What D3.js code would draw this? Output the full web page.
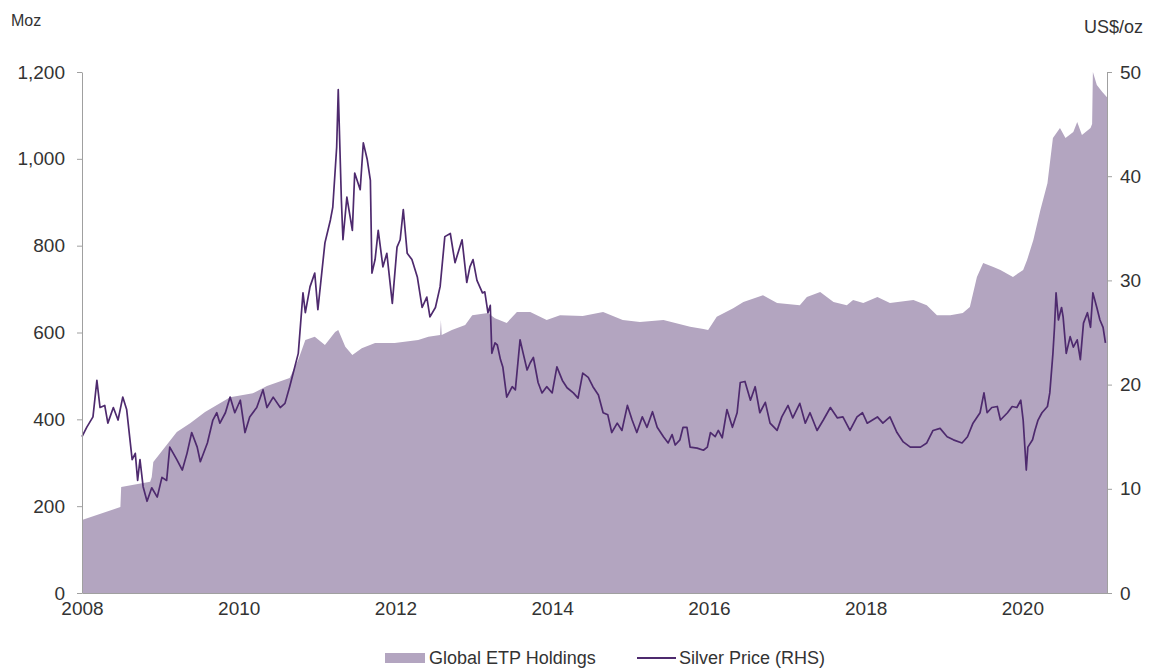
<!DOCTYPE html>
<html>
<head>
<meta charset="utf-8">
<script src="https://d3js.org/d3.v7.min.js"></script>
<style>
  body { margin: 0; background: #fff; }
  svg text { font-family: "Liberation Sans", Arial, sans-serif; fill: #333; }
  .axis path, .axis line { stroke: #a0a0a0; }
</style>
</head>
<body>
<div class="chart"></div>
<script>
// ETP holdings (Moz), decimal year
const etpDates = [2008.00, 2008.49, 2008.50, 2008.87, 2008.89, 2008.91, 2009.21, 2009.38, 2009.57, 2009.89,
  2010.18, 2010.36, 2010.65, 2010.76, 2010.85, 2010.97, 2011.10, 2011.23, 2011.27, 2011.36,
  2011.45, 2011.57, 2011.74, 2011.99, 2012.29, 2012.42, 2012.57, 2012.58, 2012.59, 2012.72,
  2012.89, 2012.98, 2013.18, 2013.27, 2013.42, 2013.55, 2013.72, 2013.93, 2014.10, 2014.39,
  2014.65, 2014.90, 2015.12, 2015.42, 2015.76, 2015.93, 2015.99, 2016.10, 2016.31, 2016.44,
  2016.69, 2016.87, 2017.16, 2017.25, 2017.42, 2017.59, 2017.76, 2017.84, 2017.97, 2018.15,
  2018.31, 2018.61, 2018.78, 2018.91, 2019.08, 2019.24, 2019.33, 2019.42, 2019.50, 2019.63,
  2019.72, 2019.88, 2020.01, 2020.06, 2020.14, 2020.23, 2020.32, 2020.39, 2020.48, 2020.55,
  2020.65, 2020.70, 2020.76, 2020.87, 2020.89, 2020.90, 2020.95, 2021.02, 2021.08];
const etpMoz = [168, 198, 244, 256, 267, 302, 371, 391, 417, 451,
  460, 477, 495, 537, 583, 590, 571, 601, 606, 567,
  548, 564, 576, 576, 583, 590, 594, 629, 594, 606,
  617, 640, 645, 633, 622, 647, 647, 629, 640, 638,
  647, 629, 624, 629, 613, 608, 606, 636, 656, 670,
  686, 668, 663, 682, 693, 670, 663, 675, 668, 682,
  668, 675, 663, 640, 640, 645, 659, 728, 760, 751,
  744, 728, 744, 767, 813, 882, 944, 1048, 1071, 1048,
  1062, 1085, 1055, 1071, 1080, 1200, 1170, 1154, 1142];

// Silver price (US$/oz), decimal year
const priceDates = [2008.00, 2008.06, 2008.14, 2008.19, 2008.23, 2008.29, 2008.33, 2008.40, 2008.46, 2008.52,
  2008.57, 2008.64, 2008.68, 2008.71, 2008.74, 2008.78, 2008.83, 2008.89, 2008.96, 2009.02,
  2009.08, 2009.12, 2009.21, 2009.28, 2009.34, 2009.40, 2009.47, 2009.51, 2009.60, 2009.67,
  2009.72, 2009.76, 2009.83, 2009.89, 2009.95, 2010.02, 2010.08, 2010.14, 2010.23, 2010.31,
  2010.36, 2010.44, 2010.53, 2010.59, 2010.65, 2010.76, 2010.82, 2010.85, 2010.91, 2010.97,
  2011.01, 2011.10, 2011.17, 2011.20, 2011.25, 2011.27, 2011.31, 2011.33, 2011.38, 2011.45,
  2011.48, 2011.55, 2011.59, 2011.64, 2011.68, 2011.70, 2011.74, 2011.78, 2011.84, 2011.89,
  2011.96, 2012.02, 2012.06, 2012.10, 2012.15, 2012.21, 2012.28, 2012.34, 2012.40, 2012.44,
  2012.51, 2012.57, 2012.63, 2012.70, 2012.76, 2012.85, 2012.91, 2012.95, 2012.99, 2013.04,
  2013.11, 2013.14, 2013.18, 2013.21, 2013.23, 2013.27, 2013.30, 2013.34, 2013.37, 2013.42,
  2013.49, 2013.53, 2013.59, 2013.63, 2013.68, 2013.72, 2013.76, 2013.82, 2013.87, 2013.93,
  2014.00, 2014.06, 2014.13, 2014.19, 2014.27, 2014.33, 2014.39, 2014.46, 2014.52, 2014.59,
  2014.65, 2014.71, 2014.76, 2014.83, 2014.89, 2014.96, 2015.02, 2015.08, 2015.15, 2015.21,
  2015.28, 2015.34, 2015.42, 2015.48, 2015.53, 2015.57, 2015.63, 2015.67, 2015.72, 2015.76,
  2015.85, 2015.93, 2015.98, 2016.02, 2016.08, 2016.12, 2016.17, 2016.23, 2016.30, 2016.36,
  2016.40, 2016.46, 2016.53, 2016.59, 2016.65, 2016.72, 2016.78, 2016.87, 2016.93, 2017.01,
  2017.07, 2017.16, 2017.23, 2017.29, 2017.38, 2017.46, 2017.55, 2017.64, 2017.71, 2017.80,
  2017.89, 2017.96, 2018.02, 2018.15, 2018.22, 2018.31, 2018.40, 2018.48, 2018.57, 2018.70,
  2018.78, 2018.86, 2018.95, 2019.04, 2019.12, 2019.23, 2019.30, 2019.37, 2019.46, 2019.51,
  2019.55, 2019.61, 2019.68, 2019.72, 2019.81, 2019.87, 2019.93, 2019.98, 2020.01, 2020.05,
  2020.07, 2020.13, 2020.16, 2020.20, 2020.25, 2020.32, 2020.35, 2020.39, 2020.41, 2020.43,
  2020.46, 2020.50, 2020.52, 2020.56, 2020.61, 2020.65, 2020.70, 2020.74, 2020.78, 2020.83,
  2020.87, 2020.90, 2020.95, 2020.99, 2021.03, 2021.06];
const priceUsd = [15.0, 15.9, 16.9, 20.4, 17.8, 18.0, 16.3, 17.8, 16.6, 18.8,
  17.6, 12.8, 13.4, 10.8, 12.8, 10.2, 8.8, 10.1, 9.2, 11.1,
  10.8, 14.0, 12.8, 11.8, 13.4, 15.4, 14.0, 12.6, 14.4, 16.6,
  17.3, 16.3, 17.3, 18.8, 17.3, 18.5, 15.4, 16.9, 17.8, 19.5,
  17.8, 18.8, 17.8, 18.2, 19.8, 23.0, 28.8, 26.9, 29.4, 30.7,
  27.2, 33.6, 35.8, 37.0, 42.8, 48.3, 37.7, 33.9, 38.0, 34.8,
  40.3, 38.7, 43.2, 41.6, 39.6, 30.7, 32.0, 34.8, 31.3, 32.6,
  27.8, 33.2, 33.9, 36.8, 32.6, 32.0, 30.3, 27.4, 28.4, 26.5,
  27.4, 29.4, 34.2, 34.5, 31.7, 33.9, 29.8, 31.3, 32.0, 30.0,
  28.8, 28.9, 26.9, 27.6, 23.0, 24.0, 23.8, 22.4, 21.7, 18.8,
  19.8, 19.5, 24.3, 23.0, 21.4, 22.1, 22.6, 20.2, 19.2, 19.8,
  19.2, 21.7, 20.4, 19.7, 19.2, 18.7, 21.1, 20.7, 19.8, 19.0,
  17.3, 17.1, 15.4, 16.3, 15.6, 18.0, 16.6, 15.4, 16.9, 15.9,
  17.4, 15.9, 15.0, 14.4, 15.2, 14.2, 14.7, 15.9, 15.9, 14.0,
  13.9, 13.7, 14.0, 15.4, 15.0, 15.6, 14.9, 17.6, 15.9, 17.3,
  20.2, 20.3, 18.5, 19.8, 17.3, 18.3, 16.3, 15.6, 16.9, 18.0,
  16.8, 18.2, 16.3, 17.3, 15.6, 16.6, 17.8, 16.8, 16.9, 15.6,
  16.9, 17.3, 16.3, 16.9, 16.3, 16.9, 15.4, 14.5, 14.0, 14.0,
  14.4, 15.6, 15.8, 15.0, 14.7, 14.4, 15.0, 16.3, 17.3, 19.2,
  17.3, 17.8, 17.9, 16.6, 17.3, 17.9, 17.8, 18.5, 16.6, 11.8,
  14.0, 14.7, 15.6, 16.6, 17.3, 17.9, 19.2, 23.0, 25.5, 28.8,
  26.2, 27.4, 26.5, 23.0, 24.6, 23.6, 24.3, 22.4, 25.9, 26.9,
  25.5, 28.8, 27.4, 26.2, 25.5, 24.0];

const leftTicks = [0, 200, 400, 600, 800, 1000, 1200];
const rightTicks = [0, 10, 20, 30, 40, 50];
const yearTicks = [2008, 2010, 2012, 2014, 2016, 2018, 2020];

const width = 1149, height = 669;
const margin = { top: 72, right: 42, bottom: 76, left: 82 };

const svg = d3.select('.chart').append('svg')
  .attr('width', width)
  .attr('height', height);

const x = d3.scaleLinear()
  .domain([2008, 2021.08])
  .range([margin.left, width - margin.right]);

const yLeft = d3.scaleLinear()
  .domain([0, 1200])
  .range([height - margin.bottom, margin.top]);

const yRight = d3.scaleLinear()
  .domain([0, 50])
  .range([height - margin.bottom, margin.top]);

const etp = etpDates.map((d, i) => ({ date: d, value: etpMoz[i] }));
const price = priceDates.map((d, i) => ({ date: d, value: priceUsd[i] }));

// holdings area
const area = d3.area()
  .x(d => x(d.date))
  .y0(yLeft(0))
  .y1(d => yLeft(d.value));

svg.append('path')
  .datum(etp)
  .attr('fill', '#b3a5c0')
  .attr('d', area);

// silver price line
const line = d3.line()
  .x(d => x(d.date))
  .y(d => yRight(d.value));

svg.append('path')
  .datum(price)
  .attr('fill', 'none')
  .attr('stroke', '#4e2a6e')
  .attr('stroke-width', 1.7)
  .attr('stroke-linejoin', 'round')
  .attr('d', line);

// axes
svg.append('g')
  .attr('class', 'axis')
  .attr('transform', `translate(${margin.left},0)`)
  .call(d3.axisLeft(yLeft).tickValues(leftTicks).tickFormat(d3.format(','))
    .tickSize(5).tickSizeOuter(0).tickPadding(12))
  .call(g => g.selectAll('text').style('font-size', '19px'));

svg.append('g')
  .attr('class', 'axis')
  .attr('transform', `translate(${width - margin.right},0)`)
  .call(d3.axisRight(yRight).tickValues(rightTicks)
    .tickSize(5).tickSizeOuter(0).tickPadding(8))
  .call(g => g.selectAll('text').style('font-size', '19px'));

svg.append('g')
  .attr('class', 'axis')
  .attr('transform', `translate(0,${height - margin.bottom})`)
  .call(d3.axisBottom(x).tickValues(yearTicks).tickFormat(d3.format('d'))
    .tickSize(0).tickPadding(9))
  .call(g => g.selectAll('text').style('font-size', '19px'));

// axis titles
svg.append('text')
  .attr('x', 11).attr('y', 26)
  .style('font-size', '16px')
  .text('Moz');

svg.append('text')
  .attr('x', 1143).attr('y', 33)
  .attr('text-anchor', 'end')
  .style('font-size', '18px')
  .text('US$/oz');

// legend
const legend = svg.append('g').attr('transform', 'translate(0,664)');
legend.append('rect')
  .attr('x', 385).attr('y', -11).attr('width', 40).attr('height', 10)
  .attr('fill', '#b3a5c0');
legend.append('text')
  .attr('x', 429).attr('y', 0)
  .style('font-size', '18px')
  .text('Global ETP Holdings');
legend.append('line')
  .attr('x1', 637).attr('x2', 676).attr('y1', -6).attr('y2', -6)
  .attr('stroke', '#4e2a6e').attr('stroke-width', 2);
legend.append('text')
  .attr('x', 679).attr('y', 0)
  .style('font-size', '18px')
  .text('Silver Price (RHS)');
</script>
</body>
</html>
